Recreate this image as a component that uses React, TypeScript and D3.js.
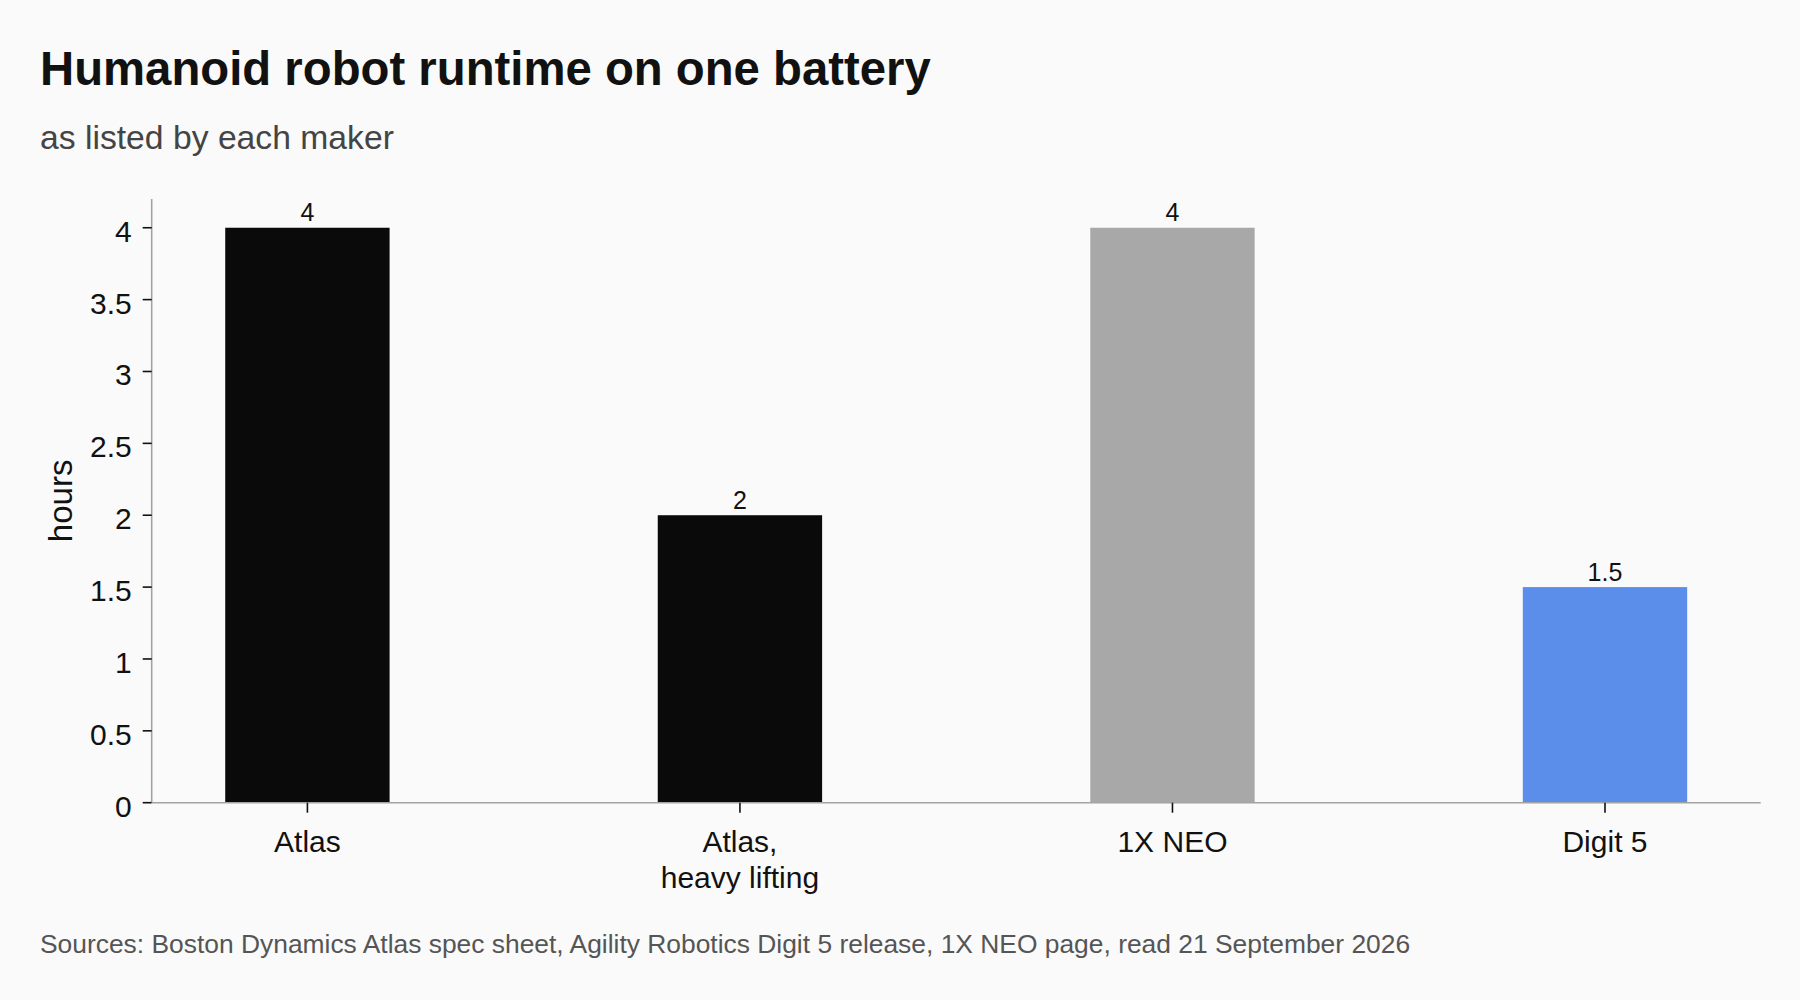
import React from "react";
import * as d3 from "d3";

// ---- data ----
const categories: string[][] = [["Atlas"], ["Atlas,", "heavy lifting"], ["1X NEO"], ["Digit 5"]];
const hours: number[] = [4, 2, 4, 1.5];
const makers: string[] = ["Boston Dynamics", "Boston Dynamics", "1X", "Agility Robotics"];
const yTickValues: number[] = [0, 0.5, 1, 1.5, 2, 2.5, 3, 3.5, 4];

const titleText = "Humanoid robot runtime on one battery";
const subtitleText = "as listed by each maker";
const yAxisTitle = "hours";
const sourceText =
  "Sources: Boston Dynamics Atlas spec sheet, Agility Robotics Digit 5 release, 1X NEO page, read 21 September 2026";

// ---- layout / style ----
const W = 1800;
const H = 1000;
const FONT = "'Liberation Sans', Arial, Helvetica, sans-serif";
const plot = { left: 151.7, right: 1760.7, top: 199, bottom: 802.7 };

export default function App() {
  const keys = categories.map((c) => c.join(" "));
  const x = d3
    .scaleBand<string>()
    .domain(keys)
    .range([plot.left, plot.right])
    .paddingInner(0.62)
    .paddingOuter(0.17);
  const y = d3.scaleLinear().domain([0, 4.2]).range([plot.bottom, plot.top]);
  const color = d3
    .scaleOrdinal<string, string>()
    .domain(["Boston Dynamics", "1X", "Agility Robotics"])
    .range(["#0a0a0a", "#a8a8a8", "#5b8dea"]);

  const tick = 9;
  const axisColor = "#a3a3a3";

  return (
    <div style={{ position: "absolute", left: 0, top: 0, width: W, height: H }}>
      <svg width={W} height={H} style={{ display: "block", fontFamily: FONT }}>
        <rect x={0} y={0} width={W} height={H} fill="#fafafa" />
        <text x={40} y={84.5} fontSize={47.3} fontWeight={700} fill="#111">
          {titleText}
        </text>
        <text x={40} y={148.5} fontSize={33.7} fill="#444">
          {subtitleText}
        </text>

        {/* bars */}
        {hours.map((v, i) => (
          <rect
            key={"b" + i}
            x={x(keys[i])!}
            y={y(v)}
            width={x.bandwidth()}
            height={y(0) - y(v)}
            fill={color(makers[i])}
          />
        ))}
        {/* value labels */}
        {hours.map((v, i) => (
          <text
            key={"v" + i}
            x={x(keys[i])! + x.bandwidth() / 2}
            y={y(v) - 6.5}
            textAnchor="middle"
            fontSize={25}
            fill="#111"
          >
            {String(v)}
          </text>
        ))}

        {/* y axis */}
        <line x1={plot.left} x2={plot.left} y1={plot.top} y2={plot.bottom} stroke={axisColor} strokeWidth={1.6} />
        {yTickValues.map((t) => (
          <g key={"yt" + t}>
            <line x1={plot.left - tick} x2={plot.left} y1={y(t)} y2={y(t)} stroke="#111" strokeWidth={1.6} />
            <text x={plot.left - tick - 11} y={y(t) + 14} textAnchor="end" fontSize={30} fill="#111">
              {String(t)}
            </text>
          </g>
        ))}
        <text
          transform={`translate(72.3, ${(plot.top + plot.bottom) / 2}) rotate(-90)`}
          textAnchor="middle"
          fontSize={33}
          fill="#111"
        >
          {yAxisTitle}
        </text>

        {/* x axis */}
        <line x1={plot.left} x2={plot.right} y1={plot.bottom} y2={plot.bottom} stroke={axisColor} strokeWidth={1.6} />
        {categories.map((lines, i) => {
          const cx = x(keys[i])! + x.bandwidth() / 2;
          return (
            <g key={"xt" + i}>
              <line x1={cx} x2={cx} y1={plot.bottom} y2={plot.bottom + 10} stroke="#111" strokeWidth={1.6} />
              <text x={cx} y={plot.bottom + 49} textAnchor="middle" fontSize={30} fill="#111">
                {lines.map((l, j) => (
                  <tspan key={j} x={cx} dy={j === 0 ? 0 : 36.6}>
                    {l}
                  </tspan>
                ))}
              </text>
            </g>
          );
        })}

        <text x={40} y={953} fontSize={26.4} fill="#555">
          {sourceText}
        </text>
      </svg>
    </div>
  );
}
